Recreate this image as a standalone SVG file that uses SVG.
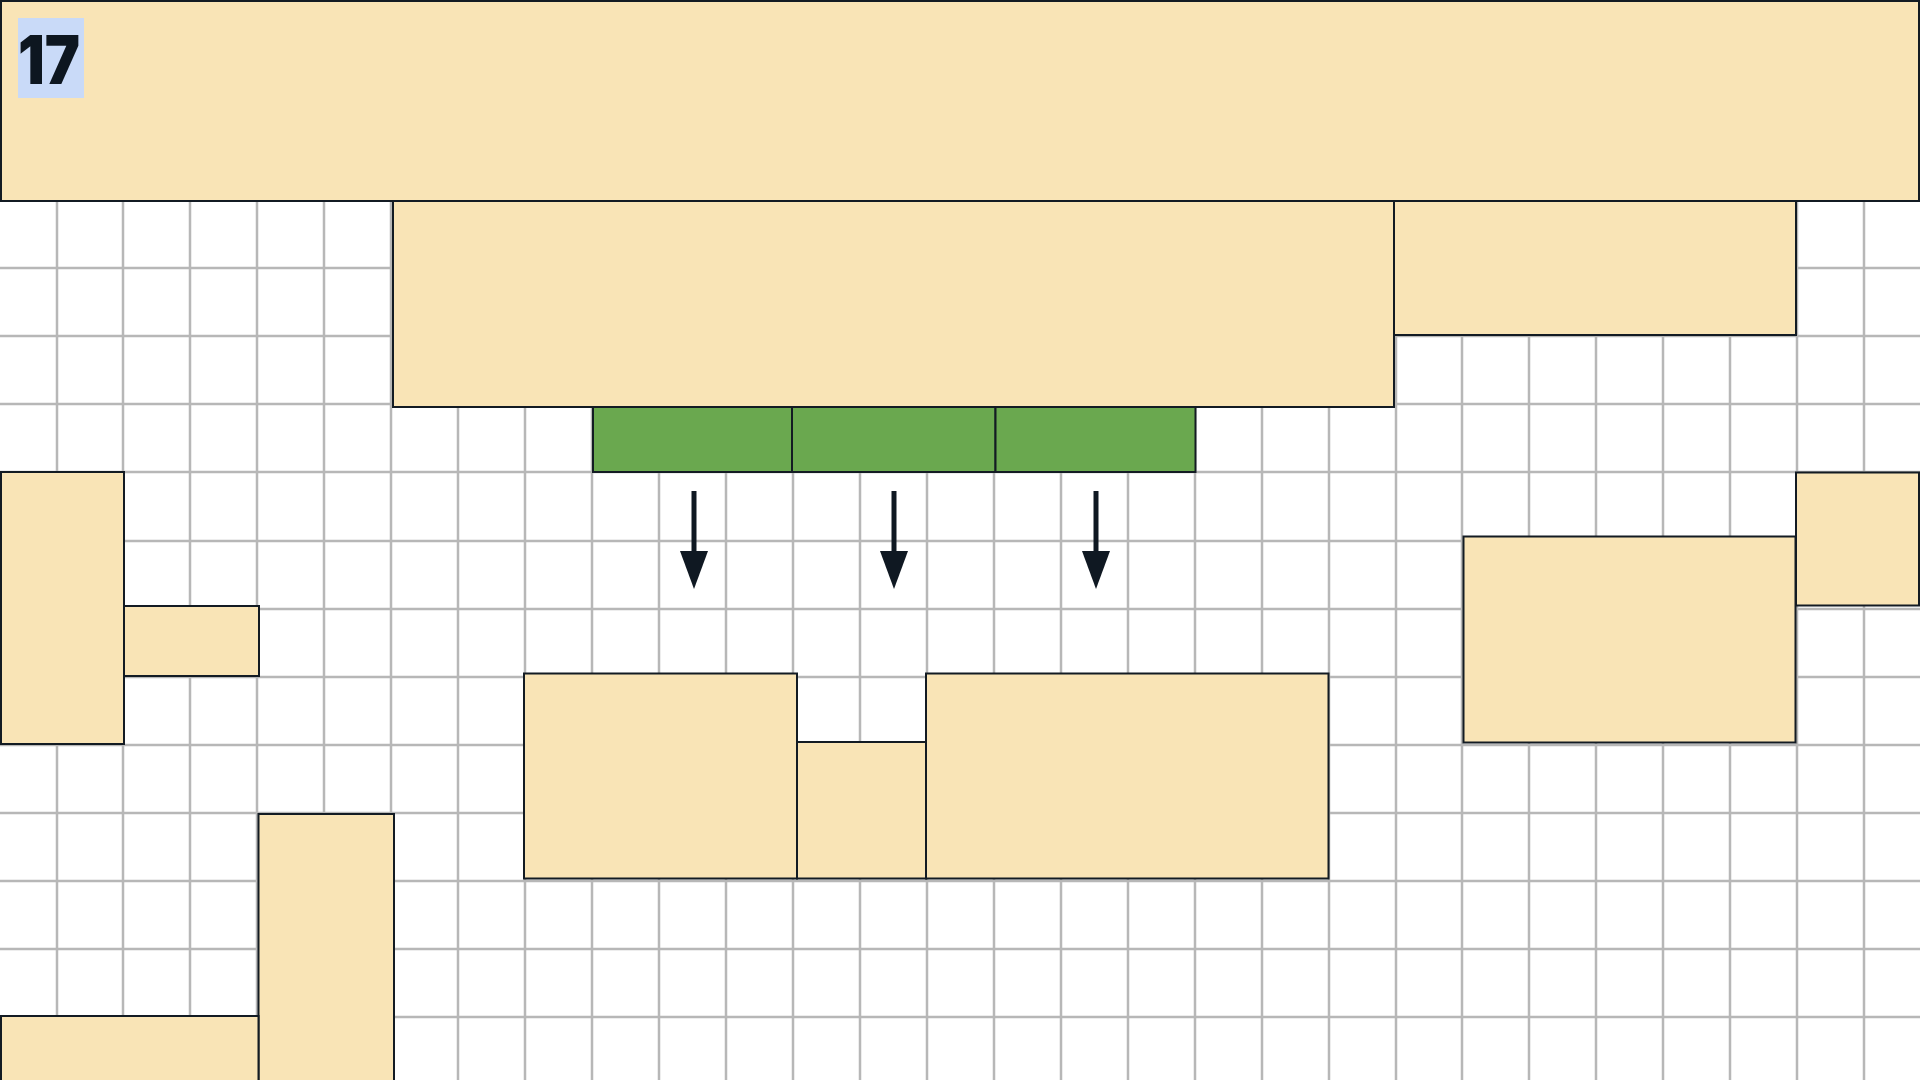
<svg xmlns="http://www.w3.org/2000/svg" width="1920" height="1080" viewBox="0 0 1920 1080">
<style>
.grid{stroke:#b7b7b7;stroke-width:2.5;fill:none}
.box{fill:#f9e4b6;stroke:#131b23;stroke-width:2}
.cell{fill:#6aa84f;stroke:#131b23;stroke-width:2}
.conn{stroke:#0f1822;stroke-width:5;fill:none}
.num{font-family:Inter,"Liberation Sans",Arial,sans-serif;font-weight:900;font-size:68px;fill:#0d1620}
</style>
<defs>
<marker id="ah" markerUnits="userSpaceOnUse" viewBox="0 -15 40 30" markerWidth="40" markerHeight="30" refX="9" refY="0" orient="auto">
<path d="M0,-14 L38,0 L0,14 Z" fill="#0f1822"/>
</marker>
</defs>
<rect width="1920" height="1080" fill="#ffffff"/>
<g id="grid">
<path class="grid" d="M57,201V1080M123,201V1080M190,201V1080M257,201V1080M324,201V1080M391,201V1080M458,201V1080M525,201V1080M592,201V1080M659,201V1080M726,201V1080M793,201V1080M860,201V1080M927,201V1080M994,201V1080M1061,201V1080M1128,201V1080M1195,201V1080M1262,201V1080M1329,201V1080M1396,201V1080M1462,201V1080M1529,201V1080M1596,201V1080M1663,201V1080M1730,201V1080M1797,201V1080M1864,201V1080M0,268H1920M0,336H1920M0,404H1920M0,472H1920M0,541H1920M0,609H1920M0,677H1920M0,745H1920M0,813H1920M0,881H1920M0,949H1920M0,1017H1920"/>
</g>
<g id="header">
<rect class="box" x="1" y="1" width="1918" height="200"/>
<rect x="18" y="18" width="66" height="80" fill="#c9daf8"/>
<text class="num" x="18" y="83.5" textLength="62" lengthAdjust="spacingAndGlyphs">17</text>
</g>
<g id="block-a"><rect class="box" x="393" y="201" width="1001" height="206"/></g>
<g id="block-b"><rect class="box" x="1394" y="201" width="402" height="134"/></g>
<g id="cell-1"><rect class="cell" x="593" y="407" width="199" height="65"/></g>
<g id="cell-2"><rect class="cell" x="792" y="407" width="203.5" height="65"/></g>
<g id="cell-3"><rect class="cell" x="995.5" y="407" width="200" height="65"/></g>
<g id="block-c"><rect class="box" x="1" y="472" width="123" height="272"/></g>
<g id="block-d"><rect class="box" x="124" y="606" width="135" height="70"/></g>
<g id="block-e"><rect class="box" x="258.5" y="814" width="135.5" height="268"/></g>
<g id="block-f"><rect class="box" x="1" y="1016" width="257.5" height="66"/></g>
<g id="block-g"><rect class="box" x="524" y="673.5" width="273" height="205"/></g>
<g id="block-h"><rect class="box" x="797" y="742" width="129" height="136.5"/></g>
<g id="block-i"><rect class="box" x="926" y="673.5" width="402.5" height="205"/></g>
<g id="block-j"><rect class="box" x="1463.5" y="536.5" width="332" height="206"/></g>
<g id="block-k"><rect class="box" x="1796" y="472.5" width="123" height="133"/></g>
<g id="connectors">
<line class="conn" x1="694" y1="491" x2="694" y2="560" marker-end="url(#ah)"/>
<line class="conn" x1="894" y1="491" x2="894" y2="560" marker-end="url(#ah)"/>
<line class="conn" x1="1096" y1="491" x2="1096" y2="560" marker-end="url(#ah)"/>
</g>
</svg>
